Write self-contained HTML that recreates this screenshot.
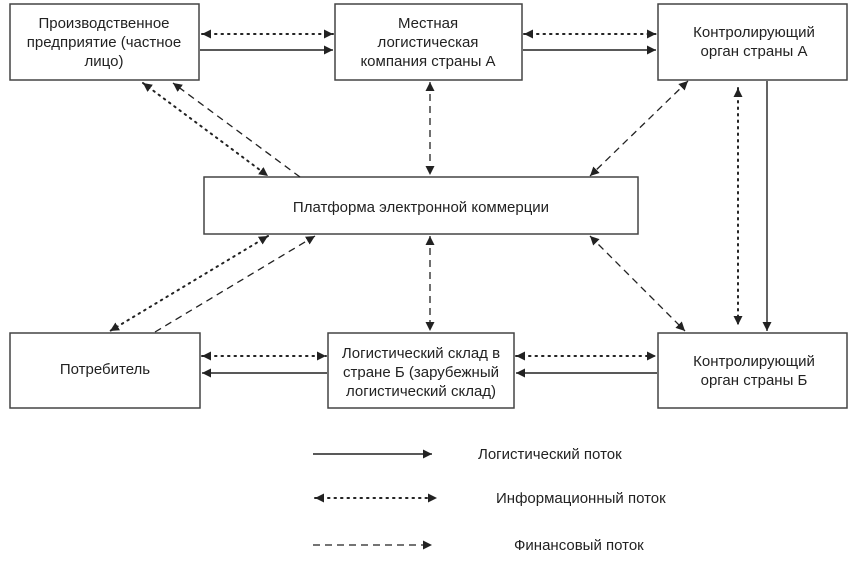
<!DOCTYPE html>
<html><head><meta charset="utf-8"><style>
html,body{margin:0;padding:0;background:#fff}
svg{display:block}
text{font-family:"Liberation Sans",sans-serif;font-size:15px;fill:#222}
</style></head><body>
<svg width="858" height="569" viewBox="0 0 858 569" xmlns="http://www.w3.org/2000/svg">
<defs>
<marker id="a" viewBox="0 0 10 10" refX="10" refY="5" markerWidth="9" markerHeight="9" markerUnits="userSpaceOnUse" orient="auto-start-reverse"><path d="M0,0L10,5L0,10z" fill="#222"/></marker>
</defs>
<g fill="#fff" stroke="#444" stroke-width="1.5">
<rect x="10" y="4" width="189" height="76"/>
<rect x="335" y="4" width="187" height="76"/>
<rect x="658" y="4" width="189" height="76"/>
<rect x="204" y="177" width="434" height="57"/>
<rect x="10" y="333" width="190" height="75"/>
<rect x="328" y="333" width="186" height="75"/>
<rect x="658" y="333" width="189" height="75"/>
</g>
<g stroke="#222" stroke-width="1.4" fill="none">
<line x1="200" y1="50" x2="333" y2="50" marker-end="url(#a)"/>
<line x1="523" y1="50" x2="656" y2="50" marker-end="url(#a)"/>
<line x1="767" y1="81" x2="767" y2="331" marker-end="url(#a)"/>
<line x1="327" y1="373" x2="202" y2="373" marker-end="url(#a)"/>
<line x1="657" y1="373" x2="516" y2="373" marker-end="url(#a)"/>
<line x1="313" y1="454" x2="432" y2="454" marker-end="url(#a)"/>
</g>
<g stroke="#222" stroke-width="2" fill="none" stroke-dasharray="1.5 5" stroke-linecap="round">
<line x1="202" y1="34" x2="333" y2="34" marker-start="url(#a)" marker-end="url(#a)"/>
<line x1="524" y1="34" x2="656" y2="34" marker-start="url(#a)" marker-end="url(#a)"/>
<line x1="143" y1="83" x2="268" y2="176" marker-start="url(#a)" marker-end="url(#a)"/>
<line x1="738" y1="88" x2="738" y2="325" marker-start="url(#a)" marker-end="url(#a)"/>
<line x1="268" y1="236" x2="110" y2="331" marker-start="url(#a)" marker-end="url(#a)"/>
<line x1="202" y1="356" x2="326" y2="356" marker-start="url(#a)" marker-end="url(#a)"/>
<line x1="516" y1="356" x2="656" y2="356" marker-start="url(#a)" marker-end="url(#a)"/>
<line x1="315" y1="498" x2="437" y2="498" marker-start="url(#a)" marker-end="url(#a)"/>
</g>
<g stroke="#222" stroke-width="1.3" fill="none" stroke-dasharray="7 5">
<line x1="430" y1="82" x2="430" y2="175" marker-start="url(#a)" marker-end="url(#a)"/>
<line x1="300" y1="177" x2="173" y2="83" marker-end="url(#a)"/>
<line x1="688" y1="81" x2="590" y2="176" marker-start="url(#a)" marker-end="url(#a)"/>
<line x1="155" y1="332" x2="315" y2="236" marker-end="url(#a)"/>
<line x1="430" y1="236" x2="430" y2="331" marker-start="url(#a)" marker-end="url(#a)"/>
<line x1="590" y1="236" x2="685" y2="331" marker-start="url(#a)" marker-end="url(#a)"/>
<line x1="313" y1="545" x2="432" y2="545" marker-end="url(#a)"/>
</g>
<g text-anchor="middle">
<text x="104" y="28">Производственное</text>
<text x="104" y="47">предприятие (частное</text>
<text x="104" y="66">лицо)</text>
<text x="428" y="28">Местная</text>
<text x="428" y="47">логистическая</text>
<text x="428" y="66">компания страны А</text>
<text x="754" y="37">Контролирующий</text>
<text x="754" y="56">орган страны А</text>
<text x="421" y="212">Платформа электронной коммерции</text>
<text x="105" y="374">Потребитель</text>
<text x="421" y="358">Логистический склад в</text>
<text x="421" y="377">стране Б (зарубежный</text>
<text x="421" y="396">логистический склад)</text>
<text x="754" y="366">Контролирующий</text>
<text x="754" y="385">орган страны Б</text>
</g>
<text x="478" y="459">Логистический поток</text>
<text x="496" y="503">Информационный поток</text>
<text x="514" y="550">Финансовый поток</text>
</svg>
</body></html>
